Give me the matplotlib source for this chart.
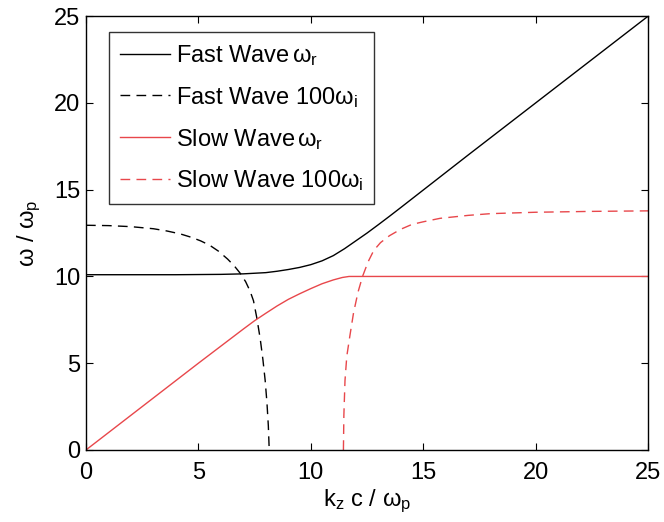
import numpy as np
import matplotlib.pyplot as plt

plt.rcParams['font.family'] = ['Liberation Sans', 'DejaVu Sans']
plt.rcParams['mathtext.fontset'] = 'custom'
plt.rcParams['mathtext.rm'] = 'Liberation Sans'
plt.rcParams['mathtext.it'] = 'Liberation Sans'

# dispersion curves, omega/omega_p vs k_z c/omega_p
fast_re_k = [0, 4, 6, 7, 8, 8.5, 9, 9.5, 10, 10.5, 11, 11.5, 12, 12.5, 13, 13.5, 14, 15, 17, 20, 25]
fast_re_w = [10.1, 10.1, 10.12, 10.15, 10.22, 10.3, 10.4, 10.52, 10.68, 10.9, 11.2, 11.6, 12.05, 12.5, 12.98, 13.47, 13.97, 14.98, 17.0, 20.0, 25.0]

fast_im_k = [0, 1, 2, 3, 3.6, 4.2, 4.7, 5.1, 5.5, 5.9, 6.3, 6.6, 6.85, 7.1, 7.3, 7.45, 7.6, 7.75, 7.87, 7.97, 8.05, 8.11, 8.15]
fast_im_w = [12.95, 12.93, 12.87, 12.75, 12.62, 12.45, 12.25, 12.05, 11.8, 11.45, 11.0, 10.6, 10.2, 9.7, 9.15, 8.6, 7.6, 6.4, 5.2, 4.0, 2.7, 1.4, 0.0]

slow_re_k = [0, 2.5, 5, 7, 7.5, 8, 8.5, 9, 9.5, 10, 10.5, 11, 11.4, 11.7, 15, 20, 25]
slow_re_w = [0, 2.5, 5.0, 6.97, 7.45, 7.88, 8.3, 8.68, 9.0, 9.3, 9.58, 9.8, 9.94, 10.0, 10.0, 10.0, 10.0]

slow_im_k = [11.45, 11.47, 11.52, 11.6, 11.74, 11.9, 12.1, 12.3, 12.55, 12.8, 13.1, 13.5, 14, 14.5, 15, 15.75, 17, 18, 20, 22.5, 25]
slow_im_w = [0.0, 2.0, 4.0, 5.4, 6.6, 7.9, 9.1, 10.0, 10.85, 11.5, 11.95, 12.35, 12.72, 13.0, 13.15, 13.35, 13.52, 13.62, 13.7, 13.75, 13.78]

red = '#e8474b'
fs = 17

fig = plt.figure(figsize=(6.64, 5.22), dpi=100)
ax = fig.add_axes([0.1295, 0.138, 0.8465, 0.831])

ax.plot(fast_re_k, fast_re_w, 'k-', lw=1.0, label=r'Fast Wave$\,\omega_r$')
ax.plot(fast_im_k, fast_im_w, 'k--', lw=1.0, dashes=(7, 4.5), label=r'Fast Wave 100$\omega_i$')
ax.plot(slow_re_k, slow_re_w, '-', color=red, lw=1.0, label=r'Slow Wave$\,\omega_r$')
ax.plot(slow_im_k, slow_im_w, '--', color=red, lw=1.0, dashes=(7, 4.5), label=r'Slow Wave 100$\omega_i$')

ax.set_xlim(0, 25)
ax.set_ylim(0, 25)
ax.set_xticks([0, 5, 10, 15, 20, 25])
ax.set_yticks([0, 5, 10, 15, 20, 25])
ax.tick_params(direction='in', labelsize=fs, top=True, right=True, length=5)
ax.tick_params(axis='x', pad=9)
ax.tick_params(axis='y', pad=4)
for s in ax.spines.values():
    s.set_linewidth(1.0)

ax.set_xlabel(r'k$_z$ c / $\omega_p$', fontsize=fs, labelpad=2)
ax.set_ylabel(r'$\omega$ / $\omega_p$', fontsize=fs, labelpad=8)

leg = ax.legend(loc='upper left', bbox_to_anchor=(0.041, 0.963), borderaxespad=0,
                fontsize=fs, handlelength=2.15, labelspacing=0.72, frameon=True,
                fancybox=False, borderpad=0.45, handletextpad=0.25)
leg.get_frame().set_edgecolor('black')
leg.get_frame().set_linewidth(1.0)

fig.savefig('out.png', dpi=100)
